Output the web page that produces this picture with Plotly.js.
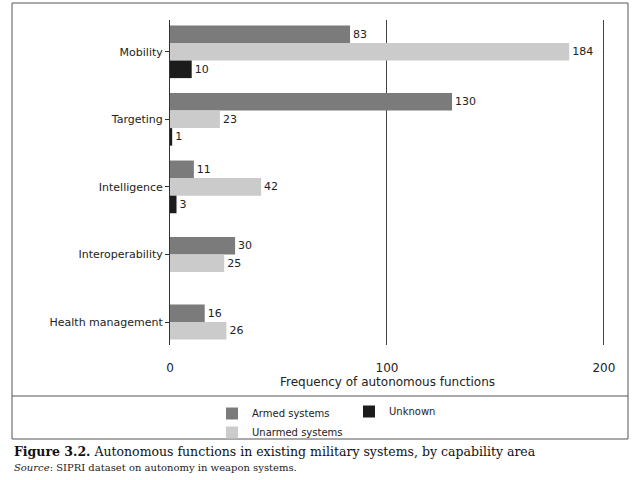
<!DOCTYPE html>
<html>
<head>
<script src="https://cdn.plot.ly/plotly-3.0.1.min.js"></script>
<style>body{margin:0;background:#fff}</style>
</head>
<body>
<div id="plot" style="width:640px;height:480px"></div>
<script>
const categories = ['Mobility', 'Targeting', 'Intelligence', 'Interoperability', 'Health management'];
const armed = [83, 130, 11, 30, 16];
const unarmed = [184, 23, 42, 25, 26];
const unknown = [10, 1, 3, null, null];
const seriesNames = ['Armed systems', 'Unarmed systems', 'Unknown'];
const seriesColors = ['#7b7b7b', '#cbcbcb', '#1c1c1c'];
const series = [armed, unarmed, unknown];

const barWidth = 0.26;

// place the bars of each category so that the present ones are centred on the label
function positions(si) {
    return categories.map((c, ci) => {
        const present = series.map(s => s[ci] != null);
        const n = present.filter(Boolean).length;
        const k = present.slice(0, si).filter(Boolean).length;
        return ci + (k - (n - 1) / 2) * barWidth;
    });
}

const traces = series.map((vals, si) => ({
    type: 'bar',
    orientation: 'h',
    name: seriesNames[si],
    x: vals,
    y: positions(si),
    width: barWidth,
    marker: {color: seriesColors[si]},
    text: vals.map(v => v == null ? '' : String(v)),
    textposition: 'outside',
    cliponaxis: false,
    textfont: {family: 'DejaVu Sans', size: 11, color: '#222'},
    legend: si === 2 ? 'legend2' : 'legend',
    hoverinfo: 'none'
}));

const px = p => (p - 170) / 435;
const py = p => (345 - p) / 325;
const frame = {color: '#555', width: 1};

const layout = {
    width: 640, height: 480,
    margin: {l: 170, r: 35, t: 20, b: 135},
    paper_bgcolor: '#fff', plot_bgcolor: '#fff',
    barmode: 'overlay',
    font: {family: 'DejaVu Sans', size: 11, color: '#222'},
    xaxis: {
        range: [0, 200.5], tickvals: [0, 100, 200],
        showgrid: true, gridcolor: '#444', gridwidth: 1,
        zeroline: false, showline: false,
        ticks: '', tickfont: {size: 12}, ticklabelstandoff: 14,
        title: {text: 'Frequency of autonomous functions', font: {size: 12}, standoff: 2}
    },
    yaxis: {
        range: [4.34, -0.47], tickvals: categories.map((c, i) => i), ticktext: categories,
        showline: true, linecolor: '#333', showgrid: false, zeroline: false,
        ticks: 'outside', ticklen: 4, tickcolor: '#333', tickfont: {size: 11}
    },
    showlegend: true,
    legend: {x: px(212), y: py(399), xanchor: 'left', yanchor: 'top', orientation: 'v',
        font: {size: 10}, tracegroupgap: 0, itemwidth: 30, bgcolor: 'rgba(0,0,0,0)'},
    legend2: {x: px(349), y: py(397), xanchor: 'left', yanchor: 'top', orientation: 'v',
        font: {size: 10}, itemwidth: 30, bgcolor: 'rgba(0,0,0,0)'},
    shapes: [
        {type: 'rect', xref: 'paper', yref: 'paper', x0: px(12), x1: px(628), y0: py(439), y1: py(3), line: frame},
        {type: 'line', xref: 'paper', yref: 'paper', x0: px(12), x1: px(628), y0: py(396), y1: py(396), line: frame}
    ],
    annotations: [
        {xref: 'paper', yref: 'paper', x: px(12), y: py(451), xanchor: 'left', yanchor: 'middle', showarrow: false,
            text: '<b>Figure 3.2.</b> Autonomous functions in existing military systems, by capability area',
            font: {family: 'DejaVu Serif', size: 12.5, color: '#111'}},
        {xref: 'paper', yref: 'paper', x: px(12), y: py(467), xanchor: 'left', yanchor: 'middle', showarrow: false,
            text: '<i>Source</i>: SIPRI dataset on autonomy in weapon systems.',
            font: {family: 'DejaVu Serif', size: 10, color: '#222'}}
    ]
};

Plotly.newPlot('plot', traces, layout, {staticPlot: true});
</script>
</body>
</html>
